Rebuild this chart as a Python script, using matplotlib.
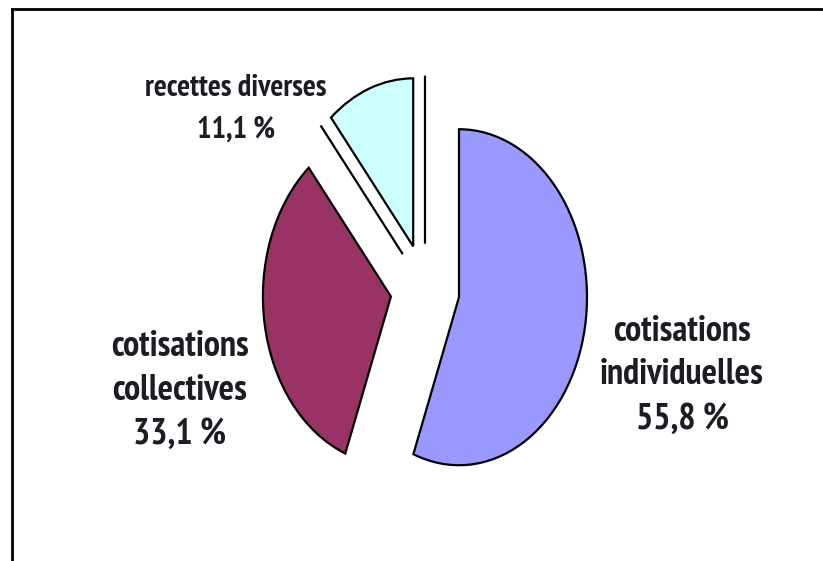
import matplotlib
matplotlib.use("Agg")
import matplotlib.pyplot as plt
from matplotlib.lines import Line2D
from matplotlib import font_manager as fm

# donnees du graphique
labels = ["cotisations\nindividuelles\n55,8 %", "cotisations\ncollectives\n33,1 %", "",
          "recettes diverses\n11,1 %", ""]
values = [55.8, 33.1, 0.0, 11.1, 0.0]
colors = ["#9999FF", "#993366", "#FFFFFF", "#CCFFFF", "#FFFFFF"]


def narrow_bold():
    # cherche une police etroite et grasse installee
    prefs = ["narrow", "condensed", "semicondensed"]
    for key in prefs:
        for f in sorted(fm.fontManager.ttflist, key=lambda f: f.fname):
            name = (f.name + " " + str(f.stretch) + " " + f.fname).lower()
            w = f.weight if isinstance(f.weight, int) else 700 if "bold" in str(f.weight) else 400
            if key in name and w >= 600 and "oblique" not in f.fname.lower() \
                    and "italic" not in f.fname.lower() and f.style == "normal":
                return fm.FontProperties(fname=f.fname)
    return fm.FontProperties(family="DejaVu Sans", weight="bold")


W, H = 823, 561
fig = plt.figure(figsize=(W / 100, H / 100), dpi=100)
ax = fig.add_axes([0, 0, 1, 1])

wedges, _ = ax.pie(values, colors=colors, startangle=90, counterclock=False,
                   explode=[0.27] * len(values), normalize=True,
                   wedgeprops=dict(edgecolor="black", linewidth=1.6))
# ellipse: 1 unit = 128 px en x, 168 px en y, centre a (425, 289)
ax.set_aspect("auto")
ax.set_xlim(-425 / 128, (W - 425) / 128)
ax.set_ylim(-(H - 289) / 168, 289 / 168)
ax.axis("off")

# etiquettes
base = narrow_bold()
pos = {0: (682, 375, 26, 1.42), 1: (180, 390, 26, 1.42), 3: (236, 109, 22, 1.62)}
for i, (px, py, fs, ls) in pos.items():
    fp = base.copy()
    fp.set_size(fs)
    fig.text(px / W, 1 - py / H, labels[i], ha="center", va="center",
             fontproperties=fp, color="#1c1c24", linespacing=ls)

# cadre
fig.add_artist(Line2D([11.5 / W, 11.5 / W], [0, 1 - 9 / H], color="black", lw=2,
                      transform=fig.transFigure))
fig.add_artist(Line2D([11.5 / W, 1], [1 - 9 / H, 1 - 9 / H], color="black", lw=2,
                      transform=fig.transFigure))

fig.savefig("out.png", dpi=100)
